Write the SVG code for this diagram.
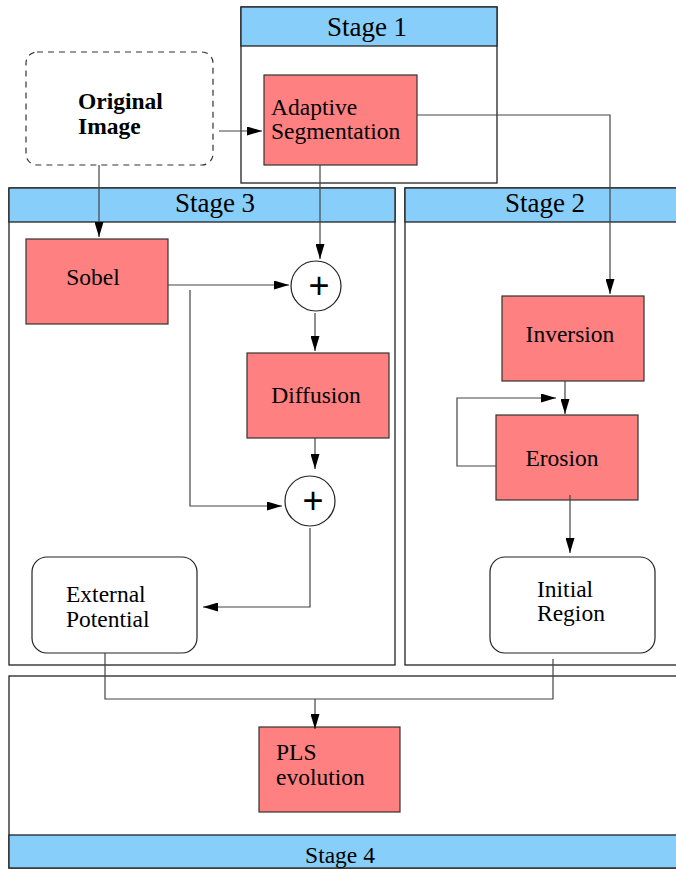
<svg xmlns="http://www.w3.org/2000/svg" width="676" height="869" viewBox="0 0 676 869">
<defs>
<style>
.frame{fill:#fff;stroke:#222;stroke-width:1.3}
.hdr{fill:#87CEFA;stroke:#222;stroke-width:1.3}
.box{fill:#FF8080;stroke:#333;stroke-width:1.2}
.rbox{fill:#fff;stroke:#222;stroke-width:1.2}
.sum{fill:#fff;stroke:#222;stroke-width:1.2}
.t{font-family:"Liberation Serif","Times New Roman",serif;font-size:23.5px;fill:#000}
.h{font-family:"Liberation Serif","Times New Roman",serif;font-size:27px;fill:#000}
.p{font-family:"Liberation Sans",Arial,sans-serif;font-size:36px;fill:#000}
.c{fill:none;stroke:#444;stroke-width:1.2}
</style>
<marker id="a" markerWidth="15" markerHeight="9" refX="15" refY="4.5" orient="auto" markerUnits="userSpaceOnUse">
<path d="M0,0 L15,4.5 L0,9 Z" fill="#000"/>
</marker>
</defs>

<g id="stage1">
<rect class="frame" x="241" y="7" width="256" height="176"/>
<rect class="hdr" x="241" y="7" width="256" height="39"/>
<text class="h" x="367" y="36" text-anchor="middle">Stage 1</text>
</g>
<g id="stage3">
<rect class="frame" x="9" y="188" width="386" height="477"/>
<rect class="hdr" x="9" y="188" width="386" height="34"/>
<text class="h" x="215" y="212" text-anchor="middle">Stage 3</text>
</g>
<g id="stage2">
<rect class="frame" x="405" y="188" width="280" height="477"/>
<rect class="hdr" x="405" y="188" width="280" height="34"/>
<text class="h" x="545" y="212" text-anchor="middle">Stage 2</text>
</g>
<g id="stage4">
<rect class="frame" x="9" y="676" width="676" height="192"/>
<rect class="hdr" x="9" y="835" width="676" height="33"/>
<text class="t" x="340" y="863" text-anchor="middle" font-size="22.5">Stage 4</text>
</g>

<g id="original">
<rect x="26" y="52" width="187" height="113" rx="11" fill="#fff" stroke="#333" stroke-width="1.2" stroke-dasharray="6,5"/>
<text class="t" x="78" y="109" font-weight="bold">Original</text>
<text class="t" x="78" y="134" font-weight="bold">Image</text>
</g>
<g id="adaptive">
<rect class="box" x="264" y="75" width="153" height="90"/>
<text class="t" x="271" y="115">Adaptive</text>
<text class="t" x="271" y="139">Segmentation</text>
</g>
<g id="sobel">
<rect class="box" x="26" y="239" width="142" height="85"/>
<text class="t" x="93" y="285" text-anchor="middle">Sobel</text>
</g>
<g id="sum1">
<circle class="sum" cx="316" cy="286" r="25"/>
<text class="p" x="319" y="298" text-anchor="middle">+</text>
</g>
<g id="diffusion">
<rect class="box" x="247" y="353" width="142" height="85"/>
<text class="t" x="316" y="403" text-anchor="middle">Diffusion</text>
</g>
<g id="sum2">
<circle class="sum" cx="310" cy="501" r="25"/>
<text class="p" x="313" y="513" text-anchor="middle">+</text>
</g>
<g id="external">
<rect class="rbox" x="32" y="557" width="165" height="96" rx="15"/>
<text class="t" x="66" y="602">External</text>
<text class="t" x="66" y="627">Potential</text>
</g>
<g id="inversion">
<rect class="box" x="502" y="296" width="142" height="85"/>
<text class="t" x="570" y="342" text-anchor="middle">Inversion</text>
</g>
<g id="erosion">
<rect class="box" x="496" y="415" width="142" height="85"/>
<text class="t" x="562" y="466" text-anchor="middle">Erosion</text>
</g>
<g id="initial">
<rect class="rbox" x="490" y="557" width="165" height="96" rx="15"/>
<text class="t" x="537" y="597">Initial</text>
<text class="t" x="537" y="621">Region</text>
</g>
<g id="pls">
<rect class="box" x="259" y="727" width="141" height="85"/>
<text class="t" x="276" y="760">PLS</text>
<text class="t" x="276" y="785">evolution</text>
</g>

<g id="connectors">
<path class="c" d="M219,131 L262,131" marker-end="url(#a)"/>
<path class="c" d="M99,165 L99,237" marker-end="url(#a)"/>
<path class="c" d="M320,165 L320,259" marker-end="url(#a)"/>
<path class="c" d="M417,115 L610,115 L610,294" marker-end="url(#a)"/>
<path class="c" d="M168,285 L289,285" marker-end="url(#a)"/>
<path class="c" d="M190,290 L190,506 L282,506" marker-end="url(#a)"/>
<path class="c" d="M315,313 L315,351" marker-end="url(#a)"/>
<path class="c" d="M315,438 L315,469" marker-end="url(#a)"/>
<path class="c" d="M310,528 L310,607 L203,607" marker-end="url(#a)"/>
<path class="c" d="M565,381 L565,414" marker-end="url(#a)"/>
<path class="c" d="M496,466 L457,466 L457,398 L556,398" marker-end="url(#a)"/>
<path class="c" d="M570,495 L570,553" marker-end="url(#a)"/>
<path class="c" d="M105,653 L105,699 L553,699 L553,659"/>
<path class="c" d="M315,699 L315,729" marker-end="url(#a)"/>
</g>
</svg>
